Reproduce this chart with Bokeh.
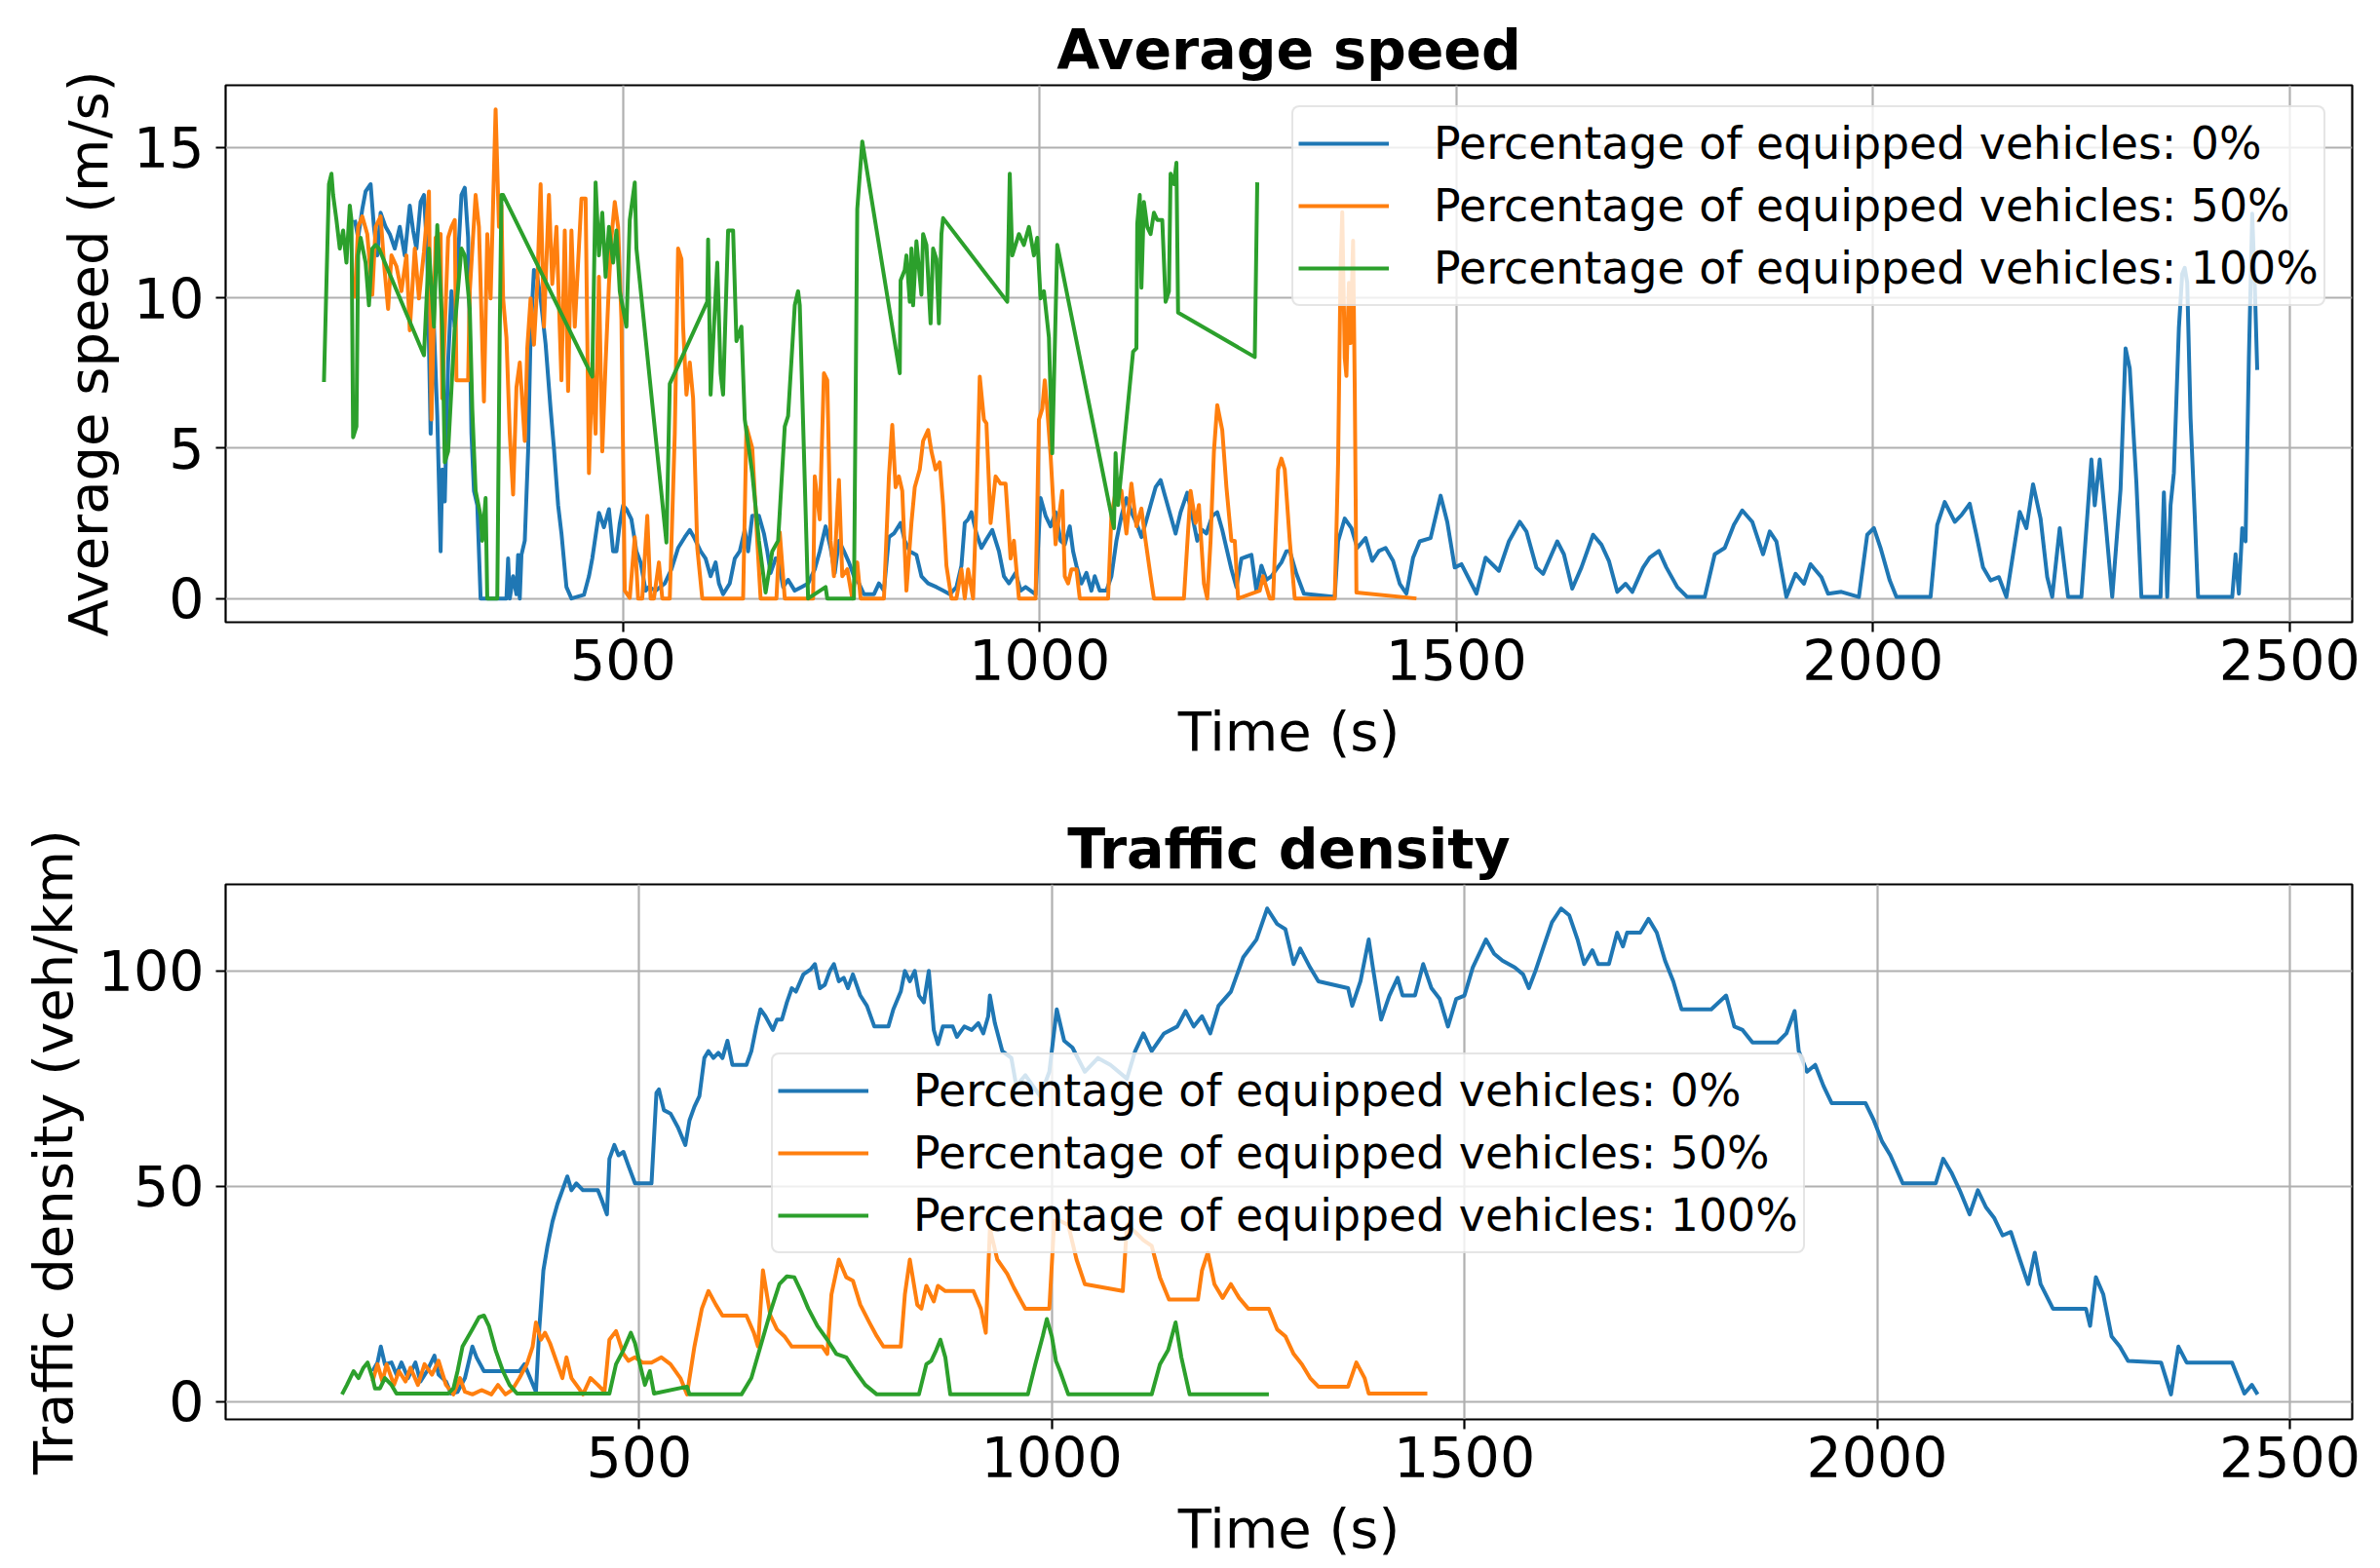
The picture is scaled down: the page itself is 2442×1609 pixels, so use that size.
from bokeh.plotting import figure
from bokeh.layouts import column
from bokeh.models import Legend, LegendItem, FixedTicker, Range1d
from bokeh.embed import file_html
from bokeh.resources import INLINE

# ---------------- data ----------------
series_labels = ["Percentage of equipped vehicles: 0%",
                 "Percentage of equipped vehicles: 50%",
                 "Percentage of equipped vehicles: 100%"]
series_colors = ["#1f77b4", "#ff7f0e", "#2ca02c"]

x_ticks = [500, 1000, 1500, 2000, 2500]
speed_ticks = [0, 5, 10, 15]
density_ticks = [0, 50, 100]

# Average speed, 0% equipped
speed_t_0 = [178, 182, 187, 191, 197, 201, 205, 209, 215, 220, 226, 232, 238, 244, 248, 252, 257, 261, 265, 269,
             273, 277, 281, 283, 286, 290, 294, 298, 302, 306, 310, 314, 318, 321, 325, 329, 360, 362, 364, 368,
             372, 374, 376, 378, 382, 386, 389, 393, 397, 401, 407, 413, 417, 422, 426, 432, 438, 453, 459, 463,
             471, 477, 483, 488, 492, 496, 500, 504, 510, 516, 521, 527, 531, 539, 550, 558, 566, 574, 580, 585,
             593, 599, 605, 611, 615, 620, 628, 634, 640, 646, 650, 655, 663, 669, 673, 677, 683,
             686, 692, 698, 706, 714, 722, 730, 736, 743, 749, 754, 759, 765, 771, 777, 783, 789, 801, 807, 813,
             819, 825, 833, 838, 844, 852, 858, 866, 876, 884, 892, 900, 906, 910, 914, 918, 924, 930, 935, 943,
             951, 957, 963, 971, 977, 983, 989, 995, 1001, 1007, 1013, 1019, 1025, 1030, 1036, 1040, 1044, 1050,
             1056, 1062, 1066, 1072, 1080, 1086, 1092, 1098, 1104, 1110, 1116, 1122, 1127, 1133, 1139, 1145, 1151,
             1157, 1163, 1169, 1177, 1183, 1189, 1195, 1200, 1207, 1213, 1219, 1224, 1230, 1236, 1242, 1248, 1254,
             1260, 1266, 1272, 1278, 1284, 1290, 1296, 1300, 1308, 1317, 1354, 1358, 1366, 1374, 1381, 1391, 1399,
             1407, 1415, 1424, 1432, 1440, 1448, 1456, 1469, 1481, 1489, 1498, 1506, 1514, 1524, 1535, 1543, 1551,
             1563, 1576, 1584, 1596, 1604, 1621, 1629, 1639, 1650, 1664, 1674, 1683, 1693, 1703, 1711, 1724, 1732,
             1743, 1752, 1765, 1777, 1798, 1810, 1822, 1833, 1843, 1855, 1868, 1876, 1884, 1896, 1907, 1917, 1925,
             1938, 1946, 1962, 1983, 1993, 2001, 2009, 2020, 2028, 2069, 2077, 2086, 2098, 2106, 2116, 2124, 2132,
             2141, 2151, 2160, 2168, 2176, 2184, 2192, 2201, 2209, 2215, 2224, 2234, 2250, 2262, 2266, 2272, 2279,
             2287, 2297, 2303, 2308, 2316, 2322, 2345, 2349, 2353, 2357, 2361, 2367, 2371, 2374, 2377, 2381, 2386,
             2390, 2431, 2435, 2439, 2443, 2447, 2451, 2455, 2458, 2461]
speed_v_0 = [12.59, 12.0, 12.95, 13.54, 13.78, 12.36, 11.41, 12.83, 12.36, 12.12, 11.64, 12.36, 11.41, 13.07, 12.24,
             11.64, 13.19, 13.42, 11.41, 5.48, 9.04, 6.07, 1.57, 4.29, 3.23, 7.85, 10.22, 9.04, 11.41, 13.42, 13.66,
             12.0, 5.48, 3.58, 3.11, 0.0, 0.0, 1.33, 0.0, 0.74, 0.14, 1.45, 0.0, 1.45, 1.92, 4.89, 8.8, 10.93, 10.7,
             9.98, 8.46, 6.3, 5.0, 3.11, 2.17, 0.38, 0.0, 0.12, 0.74, 1.33, 2.85, 2.37, 2.97, 1.57, 1.57, 2.5, 3.1,
             2.97, 2.63, 1.57, 1.2, 0.26, 0.38, 0.26, 0.5, 0.97, 1.68, 2.04, 2.28, 2.04, 1.57, 1.33, 0.74, 1.2, 0.5,
             0.14, 0.5, 1.33, 1.57, 2.28, 1.57, 2.75, 2.75, 2.16, 1.57, 0.85, 1.33,
             1.33, 0.38, 0.62, 0.26, 0.38, 0.5, 0.97, 1.57, 2.4, 1.68, 0.85, 1.92, 1.57, 1.2, 0.74, 0.5, 0.14, 0.14,
             0.5, 0.26, 2.04, 2.16, 2.51, 1.92, 1.57, 1.45, 0.74, 0.5, 0.38, 0.26, 0.14, 0.38, 1.09, 2.51, 2.63,
             2.87, 2.16, 1.68, 1.92, 2.28, 1.57, 0.74, 0.5, 0.85, 0.26, 0.38, 0.26, 0.14, 3.34, 2.75, 2.4, 2.87,
             1.92, 1.8, 2.4, 1.57, 1.09, 0.5, 0.85, 0.26, 0.74, 0.26, 0.26, 0.74, 1.92, 2.75, 3.34, 2.87, 2.51,
             2.04, 2.51, 3.11, 3.7, 3.94, 3.34, 2.75, 2.16, 2.87, 3.52, 2.75, 1.92, 2.28, 2.16, 2.75, 2.87, 2.28,
             1.68, 0.97, 0.38, 1.33, 1.39, 1.45, 0.26, 1.09, 0.62, 0.74, 0.97, 1.2, 1.57, 1.58, 0.82, 0.16, 0.05,
             1.9, 2.66, 2.34, 1.68, 2.01, 1.25, 1.58, 1.68, 1.25, 0.49, 0.16, 1.36, 1.9, 2.01, 3.42, 2.55, 1.03,
             1.14, 0.71, 0.16, 1.36, 1.14, 0.92, 1.9, 2.55, 2.23, 1.03, 0.82, 1.9, 1.47, 0.33, 1.03, 2.12, 1.79,
             1.25, 0.22, 0.49, 0.22, 1.03, 1.36, 1.58, 1.03, 0.38, 0.05, 0.05, 1.47, 1.68, 2.45, 2.93, 2.55, 1.47,
             2.23, 1.9, 0.05, 0.82, 0.49, 1.14, 0.71, 0.16, 0.22, 0.05, 2.12, 2.34, 1.68, 0.6, 0.05, 0.05, 2.45,
             3.21, 2.55, 2.77, 3.15, 2.12, 1.03, 0.6, 0.71, 0.05, 1.47, 2.88, 2.34, 3.8, 2.66, 0.71, 0.05, 2.34,
             0.05, 0.05, 4.62, 3.1, 4.62, 2.55, 0.05, 3.64, 8.32, 7.66, 3.86, 0.05, 0.05, 3.53, 0.05, 3.1, 4.18,
             9.0, 10.8, 11.0, 10.5, 6.0, 2.77, 0.05, 0.05, 1.47, 0.16, 2.34, 1.9, 8.0, 12.8, 10.5, 7.6]

# Average speed, 50% equipped
speed_t_50 = [178, 182, 187, 193, 199, 203, 209, 213, 218, 222, 228, 234, 240, 244, 250, 255, 261, 267, 270, 275,
              281, 283, 290, 294, 298, 300, 314, 316, 323, 327, 333, 337, 341, 347, 351, 354, 356, 360, 364, 368,
              372, 376, 382, 385, 389, 393, 397, 401, 405, 411, 415, 420, 426, 430, 434, 438, 442, 450, 455, 459,
              463, 467, 471, 475, 479, 483, 486, 490, 494, 498, 502, 508, 514, 518, 523, 529, 533, 537, 543, 547,
              556, 562, 566, 570, 572, 576, 580, 584, 589, 595, 644, 648, 655, 661, 665, 684, 688, 694,
              728, 730, 736, 741, 745, 749, 753, 759, 763, 769, 775, 781, 785, 813, 819, 823, 827, 831, 835, 840,
              846, 850, 856, 860, 866, 870, 875, 880, 884, 888, 894, 900, 906, 910, 914, 920, 924, 928, 933, 936,
              941, 947, 953, 959, 965, 969, 975, 995, 999, 1003, 1006, 1009, 1013, 1019, 1027, 1030, 1034, 1038,
              1044, 1048, 1082, 1086, 1092, 1098, 1104, 1110, 1116, 1122, 1127, 1133, 1137, 1173, 1181, 1187, 1191,
              1197, 1201, 1205, 1209, 1213, 1219, 1224, 1230, 1234, 1238, 1264, 1268, 1276, 1280, 1286, 1290, 1294,
              1300, 1306, 1354, 1358, 1361, 1363, 1366, 1368, 1371, 1373, 1376, 1378, 1380, 1452]
speed_v_50 = [9.98, 12.36, 12.71, 12.12, 10.1, 12.36, 12.71, 11.17, 9.63, 11.41, 11.05, 10.22, 11.41, 8.92, 11.64,
              9.98, 11.53, 13.54, 5.95, 12.0, 12.12, 6.66, 12.0, 12.36, 12.59, 7.26, 7.26, 10.22, 13.42, 12.36, 6.55,
              12.12, 9.98, 16.27, 12.36, 13.07, 9.98, 8.68, 5.48, 3.46, 7.02, 7.85, 5.24, 8.32, 9.98, 8.44, 10.46,
              13.78, 9.04, 13.42, 10.46, 12.36, 7.26, 12.24, 6.9, 12.24, 9.04, 13.3, 13.3, 4.17, 7.85, 5.48, 10.7,
              4.89, 7.85, 10.46, 12.0, 13.19, 12.36, 9.27, 0.26, 0.02, 2.04, 0.0, 0.0, 2.75, 0.0, 0.0, 1.2, 0.0, 0.0,
              5.48, 11.64, 11.29, 9.04, 6.78, 7.85, 6.66, 1.68, 0.0, 0.0, 5.72, 5.0, 1.92, 0.0, 0.0, 2.2, 0.0,
              0.0, 4.06, 2.63, 7.49, 7.26, 1.92, 0.74, 3.94, 0.74, 0.97, 0.0, 1.2, 0.0, 0.0, 4.06, 5.77, 3.7, 4.06,
              3.58, 0.26, 2.51, 3.7, 4.29, 5.24, 5.6, 4.89, 4.29, 4.53, 3.11, 1.09, 0.0, 0.0, 0.97, 0.0, 0.97, 0.0,
              3.11, 7.38, 5.95, 5.83, 2.51, 4.06, 3.82, 3.82, 1.33, 1.92, 0.0, 0.0, 5.95, 6.31, 7.26, 6.31, 4.77,
              1.8, 3.58, 0.74, 0.5, 0.97, 0.97, 0.0, 0.0, 2.75, 3.7, 3.58, 2.16, 3.82, 2.4, 2.99, 1.92, 0.74, 0.0,
              0.0, 3.58, 2.51, 3.11, 0.5, 0.0, 1.92, 4.89, 6.43, 5.6, 3.7, 1.92, 1.92, 0.0, 0.26, 0.74, 0.0, 0.0,
              4.29, 4.65, 4.29, 1.92, 0.0, 0.0, 4.5, 11.0, 12.85, 8.0, 7.4, 10.5, 8.5, 11.9, 7.0, 0.2, 0.0]

# Average speed, 100% equipped
speed_t_100 = [141, 147, 150, 152, 156, 160, 164, 168, 172, 174, 176, 180, 182, 185, 191, 195, 199, 203, 207, 261,
               267, 273, 277, 283, 286, 290, 298, 306, 310, 316, 319, 323, 329, 331, 335, 337, 349, 352, 354, 356,
               463, 467, 471, 475, 479, 483, 488, 492, 496, 500, 504, 508, 514, 516, 552, 556, 601, 602, 605, 609,
               613, 617, 620, 626, 632, 636, 642, 646, 655, 663, 671, 679, 686, 694, 698, 706, 710, 712, 722, 743,
               745, 777, 781, 787, 832, 833, 838, 840, 844, 846, 848, 852, 858, 860, 864, 869, 872, 876, 879, 882,
               884, 961, 964, 967, 975, 981, 987, 993, 997, 1001, 1005, 1011, 1015, 1021, 1089, 1091, 1094, 1112,
               1116, 1117, 1120, 1122, 1125, 1129, 1133, 1137, 1141, 1147, 1151, 1155, 1157, 1161, 1164, 1166, 1258,
               1261]
speed_v_100 = [7.2, 13.78, 14.13, 13.42, 12.59, 11.64, 12.24, 11.17, 13.07, 12.59, 5.36, 5.72, 11.41, 12.0, 11.17,
               9.75, 11.64, 11.76, 11.64, 8.09, 11.64, 9.04, 12.42, 9.04, 4.53, 4.89, 9.04, 11.64, 11.41, 9.63, 6.31,
               3.58, 2.75, 1.92, 3.34, 0.0, 0.0, 9.04, 13.42, 13.42, 7.38, 13.84, 11.41, 12.83, 10.7, 12.36, 11.17,
               12.24, 10.22, 9.63, 9.04, 12.59, 13.84, 11.64, 1.86, 7.14, 9.87, 11.94, 6.78, 9.04, 11.17, 7.49, 6.78,
               12.24, 12.24, 8.56, 9.04, 5.95, 4.17, 1.92, 0.2, 1.57, 1.92, 5.72, 6.07, 9.75, 10.22, 9.75, 0.0, 0.38,
               0.0, 0.0, 12.95, 15.2, 7.49, 10.58, 10.93, 11.41, 9.87, 11.64, 9.75, 11.88, 10.1, 12.12, 11.76, 9.15,
               11.64, 11.29, 9.15, 12.12, 12.65, 9.87, 14.13, 11.41, 12.12, 11.76, 12.36, 11.41, 12.0, 9.98, 10.22,
               8.68, 4.83, 11.76, 2.34, 4.83, 3.11, 8.21, 8.32, 12.47, 13.42, 10.34, 13.19, 12.36, 12.12, 12.83,
               12.59, 12.59, 9.87, 10.22, 14.13, 13.78, 14.49, 9.51, 8.03, 13.84]

# Traffic density, 0% equipped
density_t_0 = [177, 183, 187, 192, 200, 206, 212, 220, 229, 235, 243, 252, 257, 266, 272, 280, 289, 298, 303, 312,
               355, 361, 375, 379, 384, 389, 395, 401, 407, 413, 418, 424, 432, 450, 455, 461, 464, 470, 475, 481,
               487, 495, 515, 521, 524, 530, 538, 547, 556, 561, 567, 573, 579, 584, 590, 596, 601, 607, 613, 630,
               636, 642, 647, 653, 662, 667, 673, 679, 685, 690, 699, 708, 713, 719, 725, 731, 736, 742, 748, 753,
               759, 768, 776, 785, 802, 808, 817, 822, 828, 834, 839, 845, 851, 857, 862, 868, 880, 885, 894, 903,
               911, 917, 923, 925, 931, 940, 951, 957, 968, 986, 997, 1006, 1015, 1025, 1040, 1056, 1071, 1091,
               1101, 1111, 1121, 1136, 1152, 1162, 1172, 1182, 1192, 1202, 1217, 1232, 1248, 1261, 1273, 1283, 1293,
               1301, 1313, 1323, 1359, 1364, 1374, 1384, 1389, 1399, 1409, 1419, 1425, 1440, 1450, 1460, 1470, 1480,
               1490, 1500, 1510, 1526, 1536, 1546, 1561, 1571, 1578, 1586, 1596, 1606, 1617, 1627, 1637, 1645, 1655,
               1662, 1675, 1685, 1692, 1697, 1713, 1723, 1733, 1743, 1753, 1763, 1799, 1817, 1827, 1837, 1849, 1879,
               1890, 1900, 1905, 1915, 1925, 1935, 1945, 1986, 1996, 2006, 2016, 2031, 2071, 2080, 2090, 2100, 2112,
               2122, 2132, 2142, 2152, 2162, 2173, 2183, 2191, 2198, 2213, 2253, 2258, 2265, 2274, 2284, 2294, 2304,
               2344, 2356, 2365, 2375, 2430, 2445, 2454, 2461]
density_v_0 = [7.1, 9.1, 12.8, 8.7, 9.1, 6.3, 9.1, 5.5, 9.1, 4.7, 7.1, 10.7, 6.3, 4.7, 1.9, 2.3, 5.5, 12.8, 10.3, 7.1,
               7.1, 8.7, 2.3, 16.8, 30.5, 36.2, 41.8, 45.9, 49.1, 52.3, 49.1, 50.7, 49.1, 49.1, 46.7, 43.5, 56.4,
               59.6, 57.2, 58.0, 54.8, 50.7, 50.7, 71.7, 72.5, 67.7, 66.9, 63.7, 59.6, 65.3, 68.5, 70.9, 79.8, 81.4,
               79.8, 81.0, 79.8, 83.8, 78.2, 78.2, 81.4, 87.1, 91.1, 89.5, 86.3, 88.7, 88.7, 92.7, 96.0, 95.2, 99.2,
               100.4, 101.6, 96.0, 96.8, 100.0, 101.6, 97.6, 98.4, 96.0, 99.2, 94.3, 91.9, 87.1, 87.1, 91.1, 95.2,
               100.0, 97.6, 100.0, 94.3, 92.7, 100.0, 86.3, 83.0, 87.1, 87.1, 84.7, 87.1, 86.3, 87.9, 85.5, 89.5,
               94.3, 87.9, 81.4, 79.8, 73.3, 75.8, 70.9, 76.6, 91.1, 83.8, 82.2, 76.6, 79.8, 78.2, 75.0, 81.4, 85.5,
               81.4, 85.5, 87.1, 90.7, 87.1, 89.5, 85.5, 91.9, 95.2, 103.2, 107.3, 114.5, 110.9, 109.7, 101.6, 105.2,
               100.8, 97.6, 96.0, 91.9, 97.6, 107.3, 100.8, 88.7, 94.3, 98.4, 94.3, 94.3, 101.6, 96.0, 93.5, 87.1,
               93.5, 94.3, 100.8, 107.3, 104.0, 102.4, 100.8, 99.2, 96.0, 100.0, 105.7, 111.3, 114.5, 112.9, 107.3,
               101.6, 104.8, 101.6, 101.6, 108.9, 105.7, 108.9, 108.9, 112.1, 108.9, 102.4, 97.6, 91.1, 91.1, 94.3,
               87.1, 86.3, 83.4, 83.4, 85.5, 90.7, 81.4, 76.6, 78.2, 73.3, 69.3, 69.3, 65.3, 60.4, 57.2, 50.7, 50.7,
               56.4, 53.2, 49.1, 43.5, 49.1, 45.1, 42.6, 38.6, 39.4, 33.0, 27.3, 34.6, 27.3, 21.6, 21.6, 17.6, 28.9,
               24.9, 15.2, 12.8, 9.5, 9.1, 1.7, 12.8, 9.1, 9.1, 1.9, 3.9, 1.7]

# Traffic density, 50% equipped
density_t_50 = [177, 183, 189, 194, 203, 209, 217, 223, 232, 240, 249, 257, 266, 275, 283, 289, 298, 309, 321, 329,
                338, 346, 355, 364, 371, 375, 381, 386, 392, 401, 407, 412, 418, 427, 432, 441, 450, 458, 464, 472,
                481, 487, 495, 504, 515, 527, 538, 550, 558, 567, 576, 584, 593, 601, 630, 639, 644, 650, 659, 667,
                676, 685, 722, 728, 733, 742, 751, 759, 768, 779, 788, 796, 817, 822, 828, 837, 842, 848, 857, 862,
                871, 905, 914, 920, 925, 934, 946, 954, 963, 968, 997, 1003, 1010, 1020, 1030, 1040, 1086, 1091,
                1101, 1111, 1121, 1131, 1142, 1177, 1182, 1189, 1197, 1207, 1217, 1227, 1238, 1263, 1273, 1283, 1293,
                1303, 1313, 1323, 1359, 1369, 1379, 1384, 1455]
density_v_50 = [4.7, 8.7, 4.7, 8.7, 3.9, 7.1, 4.7, 7.9, 3.9, 8.7, 6.3, 9.5, 3.9, 1.7, 5.5, 2.3, 1.7, 2.7, 1.7, 3.9,
                1.7, 2.7, 5.5, 8.7, 12.8, 18.4, 14.4, 16.0, 13.6, 8.7, 5.5, 10.3, 5.5, 3.1, 1.7, 5.5, 3.9, 2.3, 14.4,
                16.4, 11.1, 9.5, 10.3, 9.1, 9.1, 10.3, 8.7, 5.5, 1.7, 12.8, 21.6, 25.7, 22.5, 20.0, 20.0, 16.0, 12.8,
                30.5, 20.0, 16.8, 15.2, 12.8, 12.8, 11.1, 24.9, 33.0, 28.9, 28.1, 22.5, 18.4, 15.2, 12.8, 12.8, 24.9,
                33.0, 22.5, 21.6, 26.9, 23.3, 26.9, 25.7, 25.7, 21.6, 16.0, 40.2, 33.0, 29.7, 26.5, 23.3, 21.6, 21.6,
                42.0, 42.0, 41.0, 33.0, 27.3, 25.7, 41.0, 39.4, 37.5, 36.2, 28.9, 23.7, 23.7, 30.5, 34.6, 27.3, 24.1,
                27.3, 24.1, 21.6, 21.6, 16.8, 15.2, 11.1, 8.7, 5.5, 3.5, 3.5, 9.1, 5.5, 1.9, 1.9]

# Traffic density, 100% equipped
density_t_100 = [140, 146, 154, 160, 166, 171, 177, 180, 186, 192, 200, 206, 269, 275, 280, 286, 298, 306, 312, 318,
                 326, 335, 343, 352, 464, 472, 481, 490, 495, 501, 507, 513, 518, 558, 561, 624, 636, 647, 659, 670,
                 679, 688, 696, 705, 716, 728, 739, 751, 762, 774, 788, 839, 848, 854, 860, 865, 871, 877, 971, 980,
                 989, 994, 1000, 1005, 1010, 1020, 1121, 1131, 1141, 1150, 1157, 1167, 1263]
density_v_100 = [1.7, 3.9, 7.1, 5.5, 7.9, 9.1, 5.5, 3.1, 3.1, 5.5, 3.9, 1.9, 1.9, 3.1, 7.1, 12.8, 16.8, 19.6, 20.0,
                 17.6, 12.0, 7.1, 3.9, 1.9, 1.9, 8.7, 12.0, 16.0, 13.6, 8.7, 3.9, 7.1, 1.9, 3.5, 1.7, 1.7, 5.5, 12.8,
                 20.8, 27.3, 29.1, 28.9, 25.7, 21.6, 17.6, 14.4, 11.1, 10.3, 7.1, 3.9, 1.7, 1.7, 8.7, 9.5, 12.0, 14.4,
                 10.3, 1.7, 1.7, 8.7, 15.2, 19.2, 15.2, 9.5, 7.1, 1.7, 1.7, 8.7, 12.0, 18.4, 10.3, 1.7, 1.7]

FONT = "DejaVu Sans"


def make_fig(title, ylabel, x_rng, y_rng, yticks, border_top, border_bottom, frame_h):
    p = figure(frame_width=2182, frame_height=frame_h, output_backend="svg", toolbar_location=None,
               x_range=Range1d(*x_rng), y_range=Range1d(*y_rng),
               min_border_left=231, min_border_right=20, min_border_top=border_top,
               min_border_bottom=border_bottom, title=title)
    p.title.text_font = FONT
    p.title.text_font_size = "57px"
    p.title.text_font_style = "bold"
    p.title.text_color = "black"
    p.title.align = "center"
    p.title.standoff = 7
    p.outline_line_color = "black"
    p.outline_line_width = 2.2
    p.background_fill_color = "white"
    p.border_fill_color = "white"
    for ax, ticks in ((p.xaxis[0], x_ticks), (p.yaxis[0], yticks)):
        ax.ticker = FixedTicker(ticks=ticks)
        ax.axis_line_color = None
        ax.major_tick_in = 0
        ax.major_tick_out = 10
        ax.major_tick_line_width = 2.2
        ax.major_tick_line_color = "black"
        ax.minor_tick_line_color = None
        ax.major_label_text_font = FONT
        ax.major_label_text_font_size = "57px"
        ax.major_label_text_color = "black"
        ax.axis_label_text_font = FONT
        ax.axis_label_text_font_size = "56px"
        ax.axis_label_text_font_style = "normal"
        ax.axis_label_text_color = "black"
    p.xaxis.major_label_standoff = 7
    p.yaxis.major_label_standoff = 12
    p.xaxis.axis_label = "Time (s)"
    p.yaxis.axis_label = ylabel
    p.xaxis.axis_label_standoff = 17
    p.yaxis.axis_label_standoff = 11
    p.xgrid.ticker = FixedTicker(ticks=x_ticks)
    p.ygrid.ticker = FixedTicker(ticks=yticks)
    for g in (p.xgrid[0], p.ygrid[0]):
        g.grid_line_color = "#b0b0b0"
        g.grid_line_width = 2.2
    return p


def add_series(p, ts, vs, loc):
    items = []
    for (t, v), lab, col in zip(zip(ts, vs), series_labels, series_colors):
        r = p.line(t, v, line_color=col, line_width=4, line_join="round")
        items.append(LegendItem(label=lab, renderers=[r]))
    leg = Legend(items=items, location=loc)
    leg.label_text_font = FONT
    leg.label_text_font_size = "45.8px"
    leg.label_text_color = "black"
    leg.glyph_width = 93
    leg.glyph_height = 64
    leg.label_height = 64
    leg.label_standoff = 46
    leg.padding = 5
    leg.spacing = 0
    leg.margin = 0
    leg.border_line_color = "#cccccc"
    leg.border_line_width = 2.5
    leg.background_fill_color = "white"
    leg.background_fill_alpha = 0.8
    if "border_radius" in Legend.properties():
        leg.border_radius = 8
    p.add_layout(leg)


p1 = make_fig("Average speed", "Average speed (m/s)", (23, 2575), (-0.79, 17.07), speed_ticks, 87, 181, 551)
add_series(p1, [speed_t_0, speed_t_50, speed_t_100], [speed_v_0, speed_v_50, speed_v_100], (1094, 324))

p2 = make_fig("Traffic density", "Traffic density (veh/km)", (-1, 2575.6), (-4.1, 120.1), density_ticks, 88, 140, 549)
add_series(p2, [density_t_0, density_t_50, density_t_100], [density_v_0, density_v_50, density_v_100], (560, 170))

layout = column(p1, p2, spacing=0)
open("out.html", "w").write(file_html(layout, INLINE))
